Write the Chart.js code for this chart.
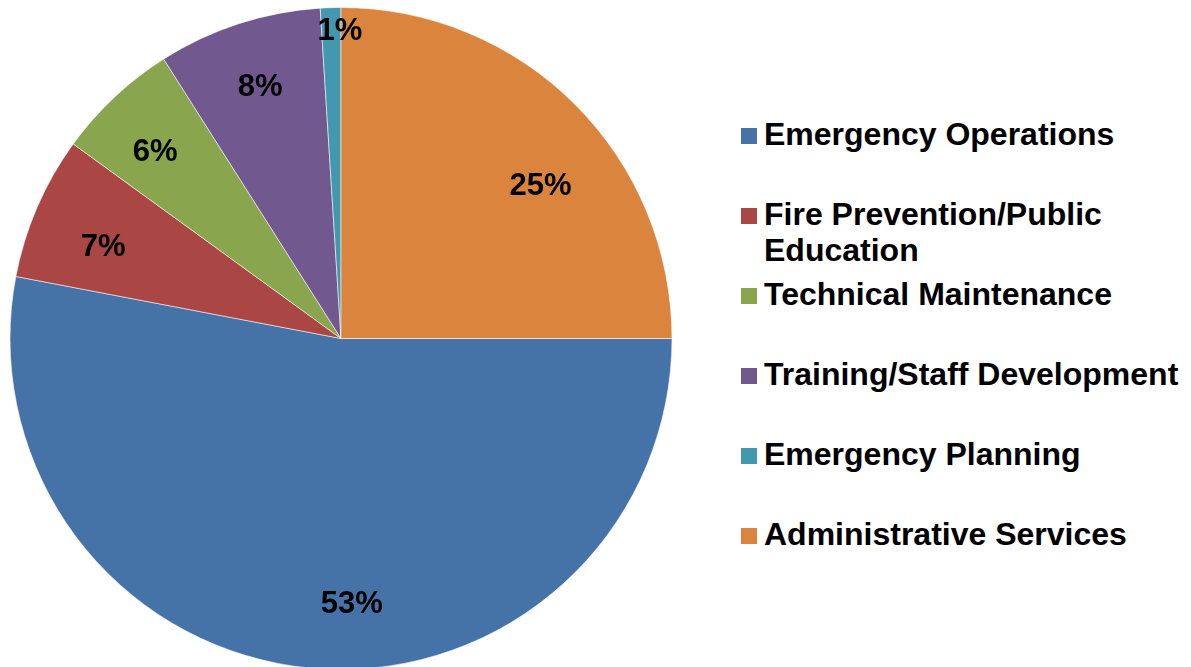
<!DOCTYPE html>
<html lang="en">
<head>
  <meta charset="UTF-8" />
  <title>Department Budget Share</title>
  <script src="https://cdn.jsdelivr.net/npm/chart.js"></script>
  <style>
    html, body {
      margin: 0;
      padding: 0;
      background: #fff;
      width: 1191px;
      height: 667px;
      overflow: hidden;
      font-family: Arial, "Liberation Sans", sans-serif;
    }
    #wrap {
      position: absolute;
      left: 0;
      top: 0;
      width: 682px;
      height: 670px;
    }
    #legend {
      position: absolute;
      left: 741px;
      top: 116px;
      margin: 0;
      padding: 0;
      list-style: none;
    }
    #legend li {
      position: relative;
      height: 80px;
      padding-left: 23px;
      font-weight: bold;
      font-size: 32px;
      line-height: 36px;
      color: #000;
      white-space: nowrap;
    }
    #legend .box {
      position: absolute;
      left: 0;
      top: 12px;
      width: 16px;
      height: 16px;
    }
  </style>
</head>
<body>
  <div id="wrap"><canvas id="pie" width="682" height="670"></canvas></div>
  <ul id="legend"></ul>

  <script>
    // data
    const categories = [
      'Emergency Operations',
      ['Fire Prevention/Public', 'Education'],
      'Technical Maintenance',
      'Training/Staff Development',
      'Emergency Planning',
      'Administrative Services'
    ];
    const shares = [53, 7, 6, 8, 1, 25];
    const colors = ['#4572A7', '#AA4643', '#89A54E', '#71588F', '#4198AF', '#DB843D'];

    // label nudges so the percentages sit where the original puts them
    const labelNudge = [[35, 8], [-1, 10], [-9, 1], [-1, -7], [7, -50], [17, 30]];

    // percentage labels drawn on the slices
    const pctLabels = {
      id: 'pctLabels',
      afterDatasetsDraw(chart) {
        const ctx = chart.ctx;
        const arcs = chart.getDatasetMeta(0).data;
        ctx.save();
        ctx.font = 'bold 31px Arial, "Liberation Sans", sans-serif';
        ctx.fillStyle = '#000';
        ctx.textAlign = 'center';
        ctx.textBaseline = 'middle';
        arcs.forEach((arc, i) => {
          const p = arc.getProps(['x', 'y', 'startAngle', 'endAngle', 'outerRadius'], true);
          const mid = (p.startAngle + p.endAngle) / 2;
          const r = p.outerRadius * 0.78;
          const n = labelNudge[i] || [0, 0];
          const x = p.x + Math.cos(mid) * r + n[0];
          const y = p.y + Math.sin(mid) * r + n[1];
          ctx.fillText(shares[i] + '%', x, y + 1);
        });
        ctx.restore();
      }
    };

    new Chart(document.getElementById('pie'), {
      type: 'pie',
      data: {
        labels: categories.map(c => Array.isArray(c) ? c.join(' ') : c),
        datasets: [{
          data: shares,
          backgroundColor: colors,
          borderColor: 'rgba(255,255,255,0.55)',
          borderWidth: 1
        }]
      },
      options: {
        responsive: false,
        animation: false,
        rotation: 90,
        layout: { padding: { left: 9, right: 9, top: 7, bottom: 0 } },
        plugins: {
          legend: { display: false },
          tooltip: { enabled: false }
        }
      },
      plugins: [pctLabels]
    });

    // legend on the right
    const legendEl = document.getElementById('legend');
    categories.forEach((c, i) => {
      const li = document.createElement('li');
      const box = document.createElement('span');
      box.className = 'box';
      box.style.background = colors[i];
      li.appendChild(box);
      const lines = Array.isArray(c) ? c : [c];
      lines.forEach((t, k) => {
        if (k > 0) li.appendChild(document.createElement('br'));
        li.appendChild(document.createTextNode(t));
      });
      legendEl.appendChild(li);
    });
  </script>
</body>
</html>
